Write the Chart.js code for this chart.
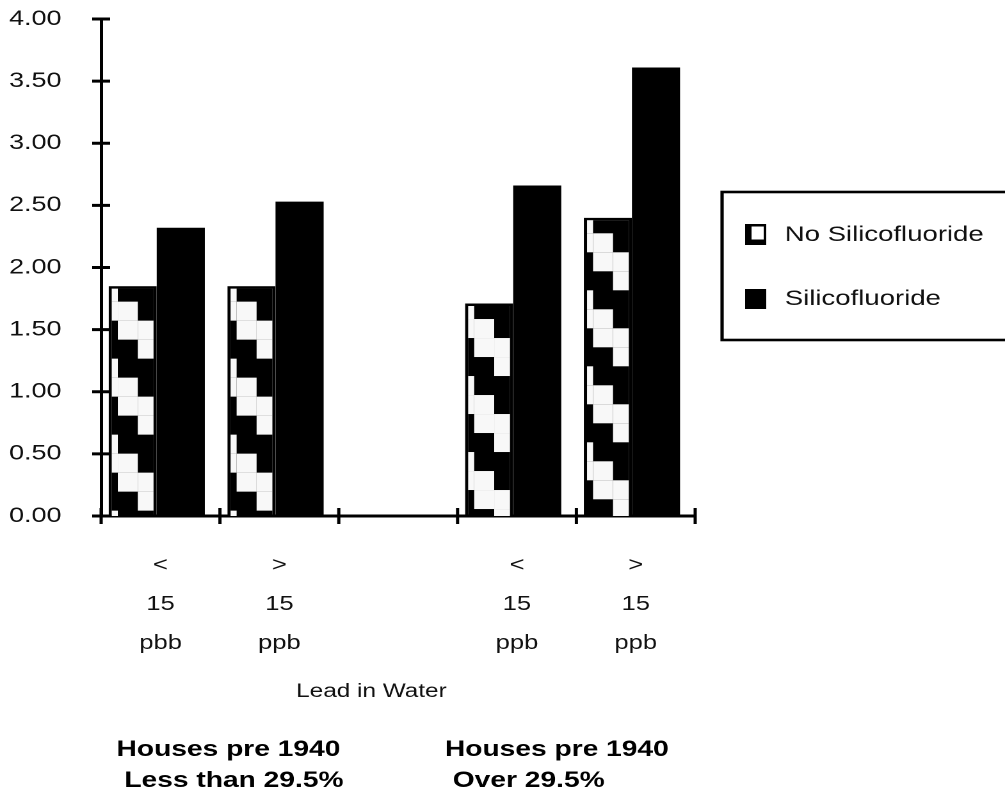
<!DOCTYPE html>
<html>
<head>
<meta charset="utf-8">
<script src="https://cdn.jsdelivr.net/npm/chart.js@4.4.1/dist/chart.umd.min.js"></script>
<style>
  html, body { margin: 0; padding: 0; background: #fff; overflow: hidden; }
</style>
</head>
<body>
<!-- the source picture is stretched sideways, so the canvas is drawn narrow and widened by its style -->
<canvas id="chart" width="785" height="798" style="width:1005px;height:798px;display:block"></canvas>
<script>
// data
const categories = [['<', '15', 'pbb'], ['>', '15', 'ppb'], '', ['<', '15', 'ppb'], ['>', '15', 'ppb']];
const noSilico = [1.85, 1.85, null, 1.71, 2.40];
const silico = [2.32, 2.53, null, 2.66, 3.61];
const seriesNames = ['No Silicofluoride', 'Silicofluoride'];
const xTitle = 'Lead in Water';
const groupNotes = [['Houses pre 1940', ' Less than 29.5%'], ['Houses pre 1940', ' Over 29.5%']];

const FONT = '"Liberation Sans", Arial, sans-serif';
const BAR_BORDER = 2.5;
const BAR_SHIFT = -3;   // groups sit a little left of their category centre

// zig-zag fill of the "No Silicofluoride" bars
function fillPattern(c, left, top, right, bottom) {
    const cw = 15.6, rh = 19;
    const x0 = left + 4.7 - cw, y0 = top - 6;
    c.save();
    c.beginPath();
    c.rect(left, top, right - left, bottom - top);
    c.clip();
    c.fillStyle = '#000';
    c.fillRect(left, top, right - left, bottom - top);
    c.fillStyle = '#f8f8f8';
    for (let col = 0; x0 + col * cw < right; col++) {
        for (let row = 0; y0 + row * rh < bottom; row++) {
            const k = ((row - col) % 4 + 4) % 4;
            if (k < 2) c.fillRect(x0 + col * cw, y0 + row * rh, cw, rh);
        }
    }
    c.restore();
}

const extras = {
    id: 'extras',
    beforeDatasetsDraw(chart) {
        chart.ctx.save();
        chart.ctx.translate(BAR_SHIFT, 0);
    },
    afterDatasetsDraw(chart) {
        const c = chart.ctx;
        chart.getDatasetMeta(0).data.forEach((bar, i) => {
            if (noSilico[i] == null) return;
            const { x, y, base, width } = bar.getProps(['x', 'y', 'base', 'width'], true);
            fillPattern(c, x - width / 2 + BAR_BORDER, y + BAR_BORDER, x + width / 2 - BAR_BORDER, base);
        });
        c.restore();
    },
    afterDraw(chart) {
        const c = chart.ctx;
        const { x: xs, y: ys } = chart.scales;
        const { left, right, bottom } = chart.chartArea;
        c.save();
        c.strokeStyle = '#000';

        // y ticks cross the axis
        c.lineWidth = 3;
        ys.ticks.forEach(t => {
            const py = ys.getPixelForValue(t.value);
            c.beginPath(); c.moveTo(left - 7, py); c.lineTo(left + 7, py); c.stroke();
        });
        // x ticks on category boundaries
        c.lineWidth = 2.5;
        const n = categories.length;
        for (let i = 0; i <= n; i++) {
            const px = xs.left + i * (xs.width / n);
            c.beginPath(); c.moveTo(px, bottom - 8); c.lineTo(px, bottom + 8); c.stroke();
        }

        // legend
        const lx = right + 21, ly = 192;
        c.lineWidth = 2.6;
        c.strokeRect(lx, ly, 300, 148);
        const sx = lx + 18;
        c.fillStyle = '#000';
        c.fillRect(sx, 224, 16.5, 21);
        c.fillStyle = '#fff';
        c.fillRect(sx + 5, 226.5, 9.5, 13);
        c.fillStyle = '#000';
        c.fillRect(sx, 289, 16.5, 20);
        c.font = `21.5px ${FONT}`;
        c.textBaseline = 'middle';
        c.textAlign = 'left';
        c.fillStyle = '#111';
        c.fillText(seriesNames[0], sx + 31, 235);
        c.fillText(seriesNames[1], sx + 31, 299);

        // axis title and group notes
        c.font = `19px ${FONT}`;
        c.textAlign = 'center';
        c.fillText(xTitle, left + (right - left) * 0.455, 692);
        c.font = `bold 22px ${FONT}`;
        c.textAlign = 'left';
        c.fillStyle = '#000';
        [xs.left + 12, xs.left + 268.5].forEach((gx, g) => {
            c.fillText(groupNotes[g][0], gx, 750);
            c.fillText(groupNotes[g][1], gx, 781);
        });
        c.restore();
    }
};

new Chart(document.getElementById('chart'), {
    type: 'bar',
    data: {
        labels: categories,
        datasets: [
            {
                label: seriesNames[0],
                data: noSilico,
                backgroundColor: '#000',
                borderColor: '#000',
                borderWidth: BAR_BORDER,
                categoryPercentage: 0.81,
                barPercentage: 1.0
            },
            {
                label: seriesNames[1],
                data: silico,
                backgroundColor: '#000',
                borderWidth: 0,
                categoryPercentage: 0.81,
                barPercentage: 1.0
            }
        ]
    },
    options: {
        responsive: false,
        devicePixelRatio: 2,
        animation: false,
        layout: { padding: { top: 19, right: 242, bottom: 0, left: 0 } },
        plugins: {
            legend: { display: false },
            tooltip: { enabled: false }
        },
        scales: {
            x: {
                grid: { display: false, drawTicks: true, tickLength: 30 },
                border: { display: true, color: '#000', width: 3 },
                ticks: {
                    color: '#111',
                    font: { family: FONT, size: 20, lineHeight: 1.95 },
                    padding: 0,
                    maxRotation: 0,
                    autoSkip: false
                },
                afterFit(scale) { scale.height = 282; }
            },
            y: {
                min: 0,
                max: 4,
                grid: { display: false, drawTicks: true, tickLength: 31 },
                border: { display: true, color: '#000', width: 2.5 },
                ticks: {
                    stepSize: 0.5,
                    color: '#111',
                    font: { family: FONT, size: 21 },
                    padding: 0,
                    callback: v => v.toFixed(2)
                },
                afterFit(scale) { scale.width = 79; }
            }
        }
    },
    plugins: [extras]
});
</script>
</body>
</html>
